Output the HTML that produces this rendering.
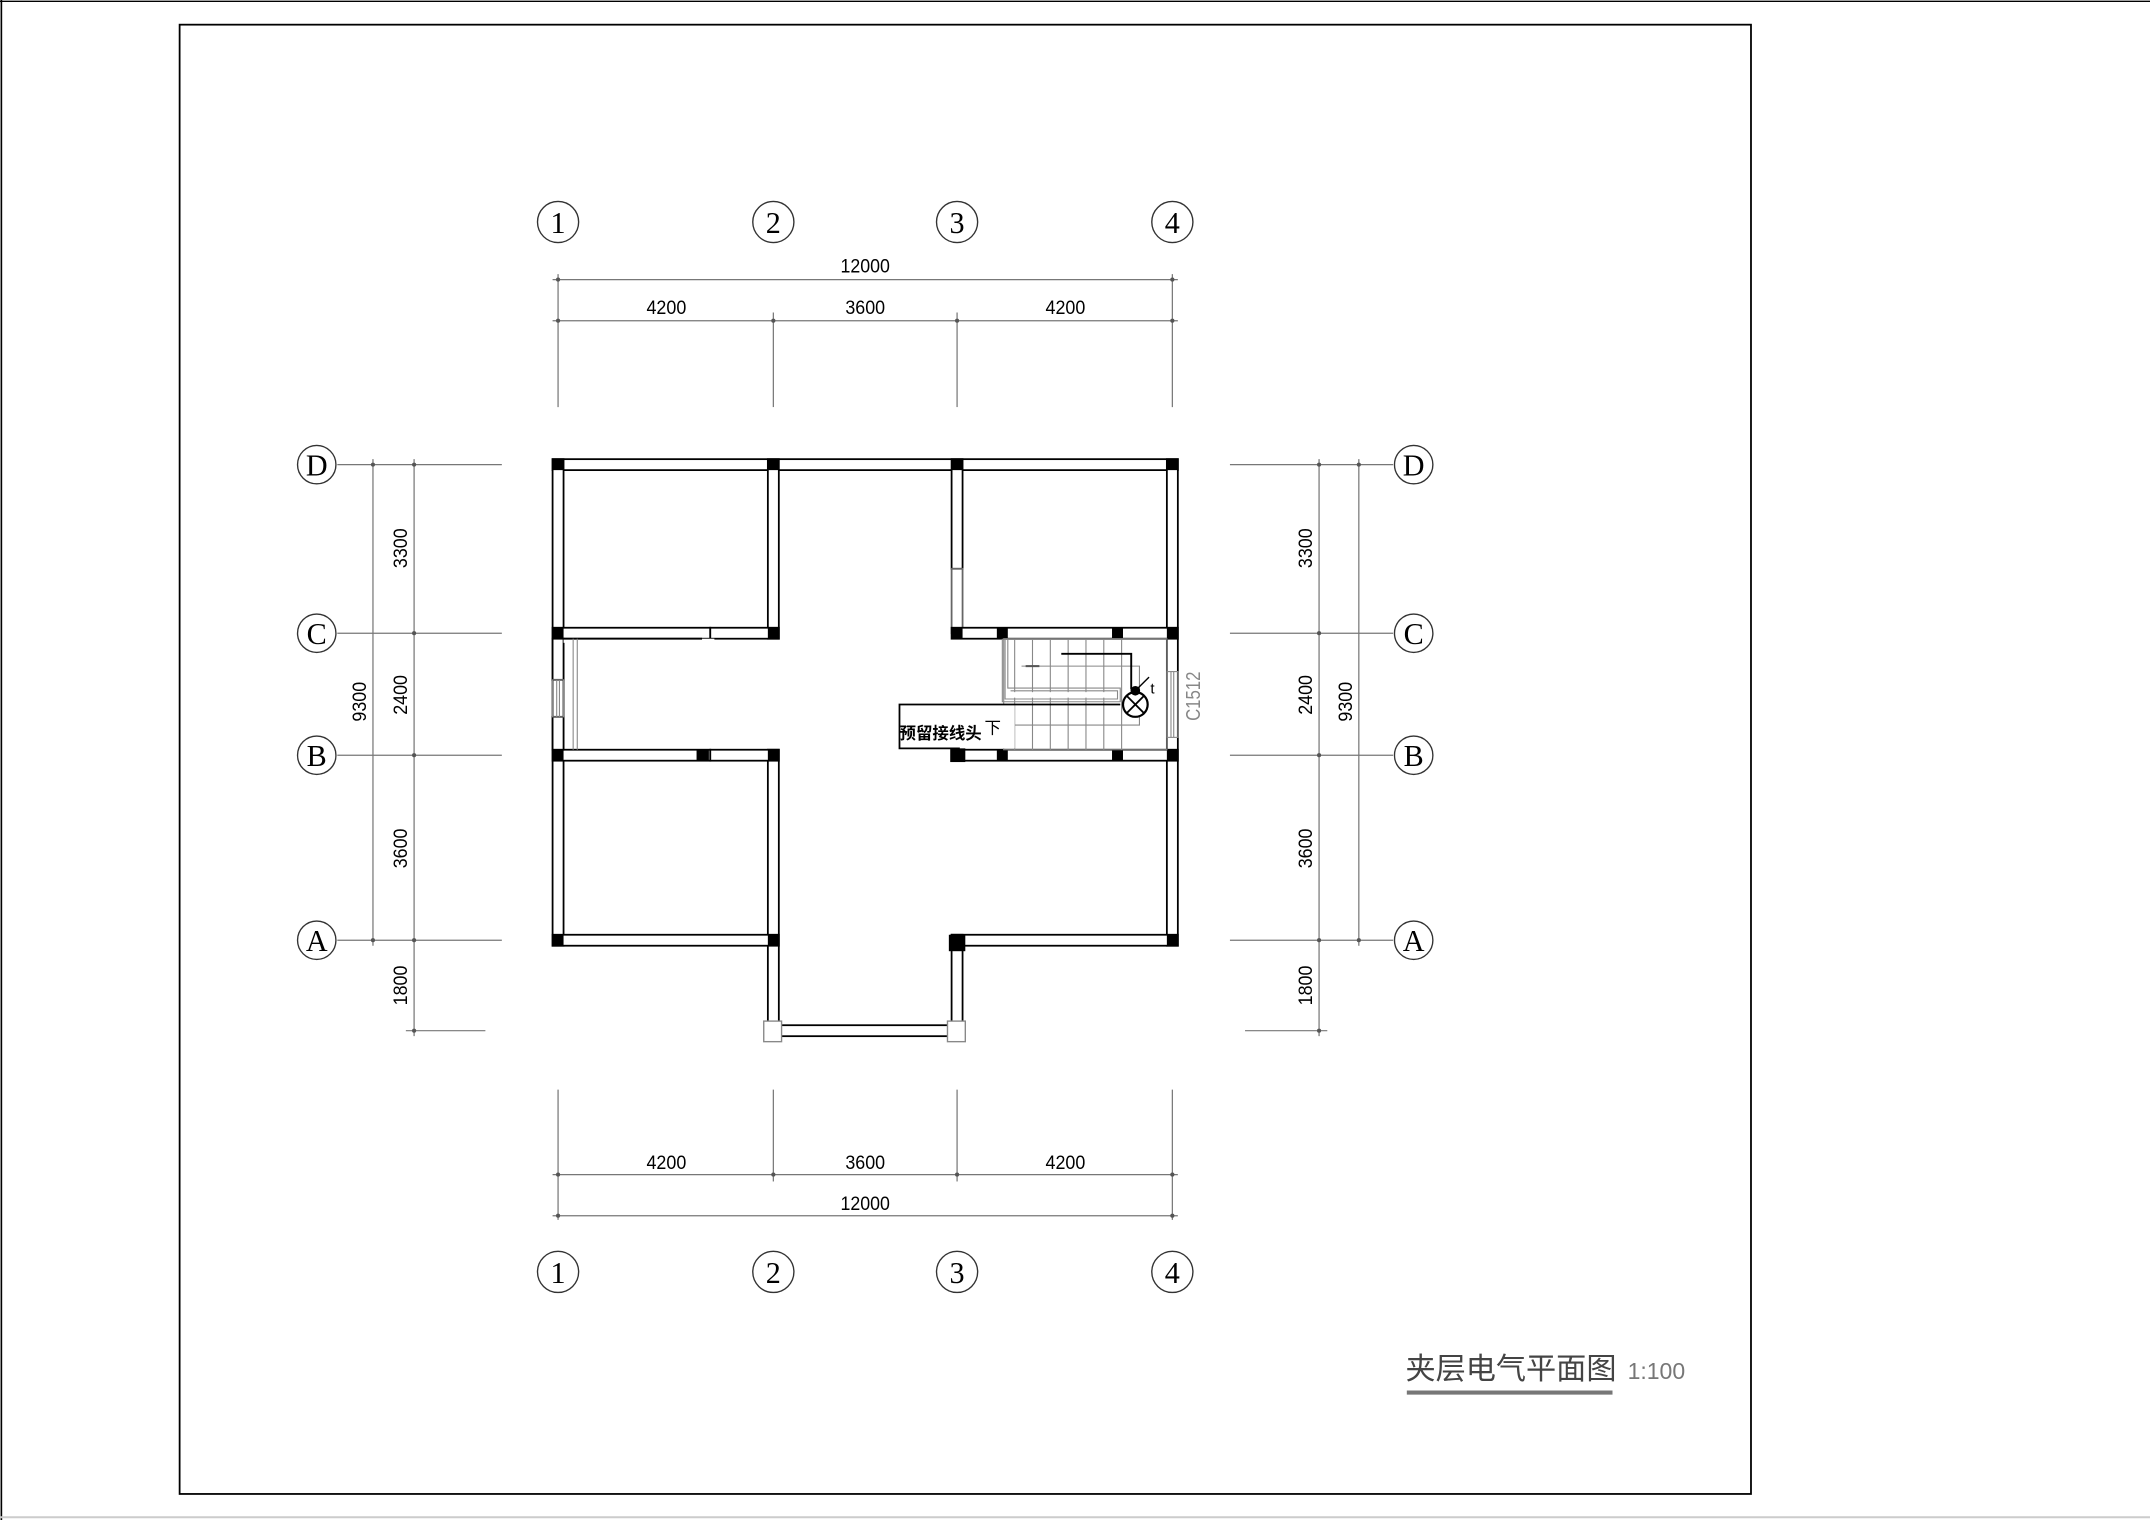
<!DOCTYPE html>
<html><head><meta charset="utf-8"><style>
html,body{margin:0;padding:0;background:#fff;}
svg{display:block}
</style></head><body>
<svg width="2150" height="1520" viewBox="0 0 1568 1109" preserveAspectRatio="none" xmlns="http://www.w3.org/2000/svg" style="font-family:'Liberation Sans','Noto Sans CJK SC',sans-serif">
<rect x="0" y="0" width="1568" height="1109" fill="#fff"/>
<line x1="1" y1="0" x2="1" y2="1109" stroke="#000" stroke-width="1.2"/>
<line x1="0" y1="1" x2="1568" y2="1" stroke="#000" stroke-width="1"/>
<line x1="0" y1="1107" x2="1568" y2="1107" stroke="#ccc" stroke-width="1.5"/>
<rect x="131" y="18" width="1146" height="1072" fill="none" stroke="#000" stroke-width="1.3"/>

<g stroke="#777" stroke-width="0.9" fill="none">
<line x1="407" y1="200" x2="407" y2="297"/><line x1="564" y1="228" x2="564" y2="297"/>
<line x1="698" y1="228" x2="698" y2="297"/><line x1="855" y1="200" x2="855" y2="297"/>
<line x1="403" y1="204" x2="859" y2="204"/><line x1="403" y1="234" x2="859" y2="234"/>
<line x1="407" y1="795" x2="407" y2="890"/><line x1="564" y1="795" x2="564" y2="862"/>
<line x1="698" y1="795" x2="698" y2="862"/><line x1="855" y1="795" x2="855" y2="890"/>
<line x1="403" y1="857" x2="859" y2="857"/><line x1="403" y1="887" x2="859" y2="887"/>
<line x1="246" y1="339" x2="366" y2="339"/><line x1="246" y1="462" x2="366" y2="462"/>
<line x1="246" y1="551" x2="366" y2="551"/><line x1="246" y1="686" x2="366" y2="686"/>
<line x1="296" y1="752" x2="354" y2="752"/>
<line x1="272" y1="335" x2="272" y2="690"/><line x1="302" y1="335" x2="302" y2="756"/>
<line x1="897" y1="339" x2="1016" y2="339"/><line x1="897" y1="462" x2="1016" y2="462"/>
<line x1="897" y1="551" x2="1016" y2="551"/><line x1="897" y1="686" x2="1016" y2="686"/>
<line x1="908" y1="752" x2="968" y2="752"/>
<line x1="962" y1="335" x2="962" y2="756"/><line x1="991" y1="335" x2="991" y2="690"/>
</g>
<g fill="#555">
<circle cx="407" cy="204" r="1.5"/><circle cx="855" cy="204" r="1.5"/>
<circle cx="407" cy="234" r="1.5"/><circle cx="564" cy="234" r="1.5"/><circle cx="698" cy="234" r="1.5"/><circle cx="855" cy="234" r="1.5"/>
<circle cx="407" cy="857" r="1.5"/><circle cx="564" cy="857" r="1.5"/><circle cx="698" cy="857" r="1.5"/><circle cx="855" cy="857" r="1.5"/>
<circle cx="407" cy="887" r="1.5"/><circle cx="855" cy="887" r="1.5"/>
<circle cx="272" cy="339" r="1.5"/><circle cx="272" cy="686" r="1.5"/>
<circle cx="302" cy="339" r="1.5"/><circle cx="302" cy="462" r="1.5"/><circle cx="302" cy="551" r="1.5"/><circle cx="302" cy="686" r="1.5"/><circle cx="302" cy="752" r="1.5"/>
<circle cx="962" cy="339" r="1.5"/><circle cx="962" cy="462" r="1.5"/><circle cx="962" cy="551" r="1.5"/><circle cx="962" cy="686" r="1.5"/><circle cx="962" cy="752" r="1.5"/>
<circle cx="991" cy="339" r="1.5"/><circle cx="991" cy="686" r="1.5"/>
</g>
<g font-size="14" fill="#000" text-anchor="middle">
<text x="631" y="199" textLength="36" lengthAdjust="spacingAndGlyphs">12000</text>
<text x="486" y="229" textLength="29" lengthAdjust="spacingAndGlyphs">4200</text><text x="631" y="229" textLength="29" lengthAdjust="spacingAndGlyphs">3600</text><text x="777" y="229" textLength="29" lengthAdjust="spacingAndGlyphs">4200</text>
<text x="486" y="853" textLength="29" lengthAdjust="spacingAndGlyphs">4200</text><text x="631" y="853" textLength="29" lengthAdjust="spacingAndGlyphs">3600</text><text x="777" y="853" textLength="29" lengthAdjust="spacingAndGlyphs">4200</text>
<text x="631" y="883" textLength="36" lengthAdjust="spacingAndGlyphs">12000</text>
<g transform="rotate(-90)">
<text x="-400" y="297" textLength="29" lengthAdjust="spacingAndGlyphs">3300</text><text x="-507" y="297" textLength="29" lengthAdjust="spacingAndGlyphs">2400</text><text x="-619" y="297" textLength="29" lengthAdjust="spacingAndGlyphs">3600</text><text x="-719" y="297" textLength="29" lengthAdjust="spacingAndGlyphs">1800</text>
<text x="-512" y="267" textLength="29" lengthAdjust="spacingAndGlyphs">9300</text>
<text x="-400" y="957" textLength="29" lengthAdjust="spacingAndGlyphs">3300</text><text x="-507" y="957" textLength="29" lengthAdjust="spacingAndGlyphs">2400</text><text x="-619" y="957" textLength="29" lengthAdjust="spacingAndGlyphs">3600</text><text x="-719" y="957" textLength="29" lengthAdjust="spacingAndGlyphs">1800</text>
<text x="-512" y="986" textLength="29" lengthAdjust="spacingAndGlyphs">9300</text>
<text x="-508" y="875" fill="#888" font-size="15" textLength="36" lengthAdjust="spacingAndGlyphs">C1512</text>
</g>
</g>
<g fill="#fff" stroke="#333" stroke-width="1">
<circle cx="407" cy="162" r="15"/><circle cx="564" cy="162" r="15"/><circle cx="698" cy="162" r="15"/><circle cx="855" cy="162" r="15"/>
<circle cx="407" cy="928" r="15"/><circle cx="564" cy="928" r="15"/><circle cx="698" cy="928" r="15"/><circle cx="855" cy="928" r="15"/>
<circle cx="231" cy="339" r="14"/><circle cx="231" cy="462" r="14"/><circle cx="231" cy="551" r="14"/><circle cx="231" cy="686" r="14"/>
<circle cx="1031" cy="339" r="14"/><circle cx="1031" cy="462" r="14"/><circle cx="1031" cy="551" r="14"/><circle cx="1031" cy="686" r="14"/>
</g>
<g style="font-family:'Liberation Serif',serif" font-size="22" text-anchor="middle" fill="#000">
<text x="407" y="170">1</text><text x="564" y="170">2</text><text x="698" y="170">3</text><text x="855" y="170">4</text>
<text x="407" y="936">1</text><text x="564" y="936">2</text><text x="698" y="936">3</text><text x="855" y="936">4</text>
<text x="231" y="347">D</text><text x="231" y="470">C</text><text x="231" y="559">B</text><text x="231" y="694">A</text>
<text x="1031" y="347">D</text><text x="1031" y="470">C</text><text x="1031" y="559">B</text><text x="1031" y="694">A</text>
</g>

<g fill="#fff" stroke="#000" stroke-width="1.3">
<rect x="403" y="335" width="456" height="8"/>
<rect x="403" y="335" width="8" height="355"/>
<rect x="851" y="335" width="8" height="355"/>
<rect x="560" y="335" width="8" height="131"/>
<rect x="560" y="547" width="8" height="209"/>
<rect x="694" y="335" width="8" height="80"/>
<rect x="694" y="415" width="8" height="47" stroke="#666"/>
<rect x="694" y="682" width="8" height="74"/>
<rect x="403" y="682" width="165" height="8"/>
<rect x="694" y="682" width="165" height="8"/>
<rect x="403" y="458" width="115" height="8"/>
<rect x="518" y="458" width="50" height="8"/>
<rect x="403" y="547" width="115" height="8"/>
<rect x="518" y="547" width="50" height="8"/>
<rect x="694" y="458" width="165" height="8"/>
<rect x="694" y="547" width="165" height="8"/>
<rect x="560" y="748" width="142" height="8"/>
<rect x="403" y="466" width="8" height="30"/>
<rect x="403" y="523" width="8" height="24"/>
</g>
<rect x="411" y="466" width="110" height="3" fill="#fff"/>
<line x1="411" y1="466" x2="512" y2="466" stroke="#000" stroke-width="1.3"/>
<g stroke="#888" stroke-width="0.8" fill="none">
<rect x="403" y="496" width="8" height="27"/>
<line x1="406" y1="496" x2="406" y2="523"/><line x1="408" y1="496" x2="408" y2="523"/>
<line x1="418" y1="466" x2="418" y2="547"/><line x1="421" y1="466" x2="421" y2="547"/>
<rect x="851" y="490" width="8" height="48"/>
<line x1="854" y1="490" x2="854" y2="538"/><line x1="856" y1="490" x2="856" y2="538"/>
</g>
<rect x="557" y="745" width="13" height="15" fill="#fff" stroke="#888" stroke-width="1"/>
<rect x="691" y="745" width="13" height="15" fill="#fff" stroke="#888" stroke-width="1"/>
<g fill="#000">
<rect x="403" y="335" width="8" height="8"/><rect x="560" y="335" width="8" height="8"/><rect x="694" y="335" width="8" height="8"/><rect x="851" y="335" width="8" height="8"/>
<rect x="403" y="458" width="8" height="8"/><rect x="560" y="458" width="8" height="8"/><rect x="694" y="458" width="8" height="8"/><rect x="727" y="458" width="8" height="8"/><rect x="811" y="458" width="8" height="8"/><rect x="851" y="458" width="8" height="8"/>
<rect x="403" y="547" width="8" height="8"/><rect x="508" y="547" width="9" height="8"/><rect x="560" y="547" width="8" height="8"/><rect x="693" y="545" width="11" height="11"/><rect x="727" y="547" width="8" height="8"/><rect x="811" y="547" width="8" height="8"/><rect x="851" y="547" width="8" height="8"/>
<rect x="403" y="682" width="8" height="8"/><rect x="560" y="682" width="8" height="8"/><rect x="692" y="682" width="12" height="12"/><rect x="851" y="682" width="8" height="8"/>
</g>
<!-- stairs -->
<g stroke="#888" stroke-width="0.8" fill="none">
<rect x="732" y="466" width="119" height="81"/>
<line x1="740" y1="466" x2="740" y2="547"/>
<line x1="753" y1="466" x2="753" y2="547"/><line x1="766" y1="466" x2="766" y2="547"/>
<line x1="779" y1="466" x2="779" y2="547"/><line x1="792" y1="466" x2="792" y2="547"/>
<line x1="805" y1="466" x2="805" y2="547"/><line x1="818" y1="466" x2="818" y2="547"/>
<polyline points="731,466 731,512 817,512 817,502 735,502 735,466"/>
<polyline points="733,466 733,510 815,510 815,504 737,504"/>
<polyline points="745,486 831,486 831,529 726,529"/>
</g>
<rect x="737" y="505" width="77" height="4" fill="#fff"/>
<line x1="748" y1="486" x2="758" y2="486" stroke="#555" stroke-width="1.5"/>
<polyline points="774,477 825,477 825,503" fill="none" stroke="#000" stroke-width="1.4"/>
<rect x="656" y="514" width="84" height="32" fill="#fff" stroke="none"/>
<polyline points="700,546 656,546 656,514 817,514" fill="none" stroke="#000" stroke-width="1.3"/>
<circle cx="828" cy="514" r="9" fill="#fff" stroke="#000" stroke-width="1.6"/>
<line x1="822" y1="508" x2="834" y2="520" stroke="#000" stroke-width="1.3"/>
<line x1="834" y1="508" x2="822" y2="520" stroke="#000" stroke-width="1.3"/>
<circle cx="828" cy="504" r="3.5" fill="#000"/>
<line x1="829" y1="503" x2="838" y2="494" stroke="#000" stroke-width="1"/>
<text x="839" y="506" font-size="11" fill="#000">t</text>
<text x="686" y="539" font-size="12" fill="#000" text-anchor="middle" font-weight="bold">预留接线头</text>
<text x="724" y="535" font-size="12" fill="#000" text-anchor="middle">下</text>

<text x="1025" y="1006" font-size="22" fill="#444">夹层电气平面图</text>
<line x1="1026" y1="1016" x2="1176" y2="1016" stroke="#777" stroke-width="3"/>
<text x="1187" y="1006" font-size="17" fill="#777" textLength="42" lengthAdjust="spacingAndGlyphs">1:100</text>
</svg>
</body></html>
